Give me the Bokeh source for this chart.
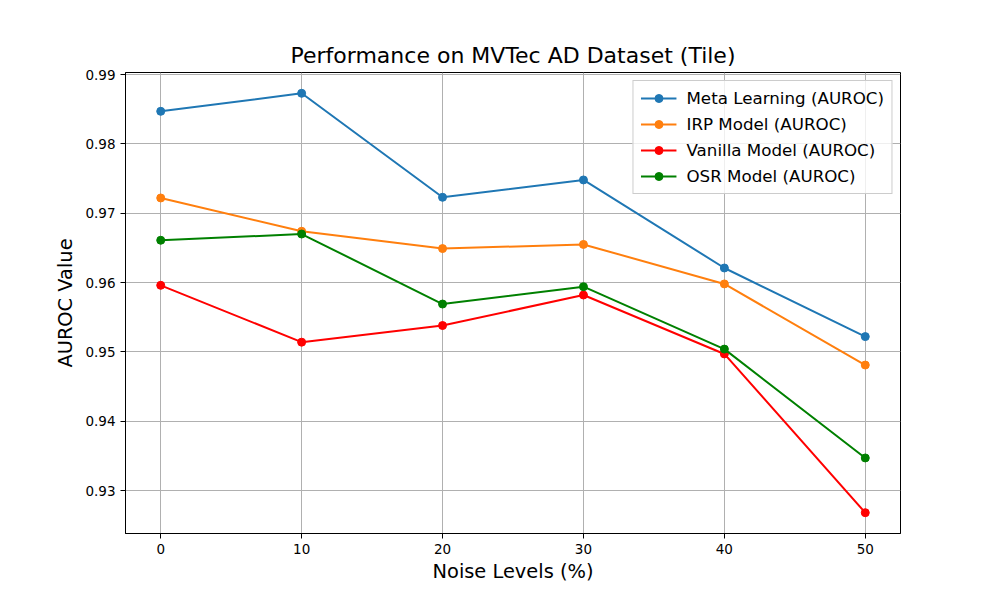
from bokeh.plotting import figure
from bokeh.embed import file_html
from bokeh.resources import INLINE
from bokeh.models import Range1d, FixedTicker, CustomJSTickFormatter

noise_levels = [0, 10, 20, 30, 40, 50]
meta_learning = [0.9847, 0.9873, 0.9723, 0.9748, 0.9621, 0.9522]
irp_model = [0.9722, 0.9674, 0.9649, 0.9655, 0.9598, 0.9481]
vanilla_model = [0.9596, 0.9514, 0.9538, 0.9582, 0.9497, 0.9268]
osr_model = [0.9661, 0.9670, 0.9569, 0.9594, 0.9504, 0.9347]
y_ticks = [0.93, 0.94, 0.95, 0.96, 0.97, 0.98, 0.99]
x_ticks = [0, 10, 20, 30, 40, 50]

series = [
    ("Meta Learning (AUROC)", meta_learning, "#1f77b4"),
    ("IRP Model (AUROC)", irp_model, "#ff7f0e"),
    ("Vanilla Model (AUROC)", vanilla_model, "#ff0000"),
    ("OSR Model (AUROC)", osr_model, "#008000"),
]

FONT = "DejaVu Sans"

p = figure(width=984, height=585, output_backend="svg", toolbar_location=None,
           x_range=Range1d(-2.5, 52.5), y_range=Range1d(0.9238, 0.9903),
           min_border_left=125, min_border_right=84, min_border_top=72, min_border_bottom=48)

p.title.text = "Performance on MVTec AD Dataset (Tile)"
p.title.text_font = FONT
p.title.text_font_size = "22px"
p.title.text_font_style = "normal"
p.title.align = "center"
p.title.text_color = "black"
p.title.offset = 0

for label, vals, color in series:
    p.line(noise_levels, vals, line_color=color, line_width=2, legend_label=label)
    p.scatter(noise_levels, vals, size=8, fill_color=color, line_color=color, legend_label=label)

for ax in (p.xaxis, p.yaxis):
    ax.axis_label_text_font = FONT
    ax.axis_label_text_font_size = "19.4px"
    ax.axis_label_text_font_style = "normal"
    ax.axis_label_text_color = "black"
    ax.major_label_text_font = FONT
    ax.major_label_text_font_size = "13.5px"
    ax.major_label_text_color = "black"
    ax.major_tick_in = 0
    ax.major_tick_out = 5
    ax.minor_tick_line_color = None
    ax.axis_line_color = "black"
    ax.major_tick_line_color = "black"

p.xaxis.axis_label_standoff = 3
p.xaxis.axis_label = "Noise Levels (%)"
p.yaxis.axis_label = "AUROC Value"
p.xaxis.ticker = FixedTicker(ticks=x_ticks)
p.yaxis.ticker = FixedTicker(ticks=y_ticks)
p.yaxis.formatter = CustomJSTickFormatter(code="return tick.toFixed(2);")

p.xgrid.grid_line_color = "#b0b0b0"
p.ygrid.grid_line_color = "#b0b0b0"
p.xgrid.grid_line_width = 1
p.ygrid.grid_line_width = 1

p.outline_line_color = "black"
p.outline_line_width = 1

p.legend.location = "top_right"
p.legend.label_text_font = FONT
p.legend.label_text_font_size = "16.7px"
p.legend.label_text_color = "black"
p.legend.border_line_color = "#cccccc"
p.legend.border_line_alpha = 1
p.legend.background_fill_alpha = 0.8
p.legend.margin = 8
p.legend.padding = 7
p.legend.spacing = 6
p.legend.glyph_width = 36
p.legend.label_standoff = 10

open("out.html", "w").write(file_html(p, INLINE))
